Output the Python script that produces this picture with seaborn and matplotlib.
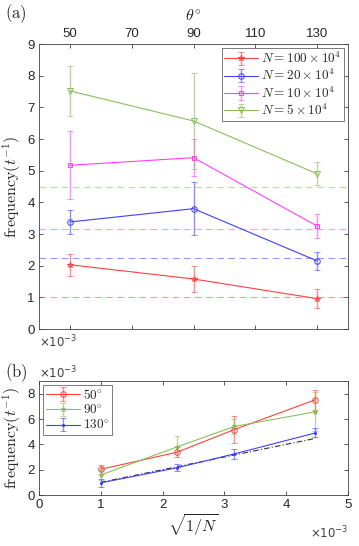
import numpy as np
import pandas as pd
import seaborn as sns
import matplotlib
matplotlib.use("Agg")
import matplotlib.pyplot as plt

sns.set_style("ticks")
plt.rcParams['font.family'] = ['Liberation Sans', 'DejaVu Sans']
plt.rcParams['mathtext.fontset'] = 'cm'

# ---- data ----
theta = [50, 90, 130]
n_labels = [r'$N = 100\times10^4$', r'$N = 20\times10^4$', r'$N = 10\times10^4$', r'$N = 5\times10^4$']
freq_n100 = [2.03, 1.58, 0.96]
err_n100 = [0.35, 0.40, 0.31]
freq_n20 = [3.38, 3.80, 2.15]
err_n20 = [0.39, 0.83, 0.28]
freq_n10 = [5.17, 5.41, 3.25]
err_n10 = [1.08, 0.58, 0.39]
freq_n5 = [7.52, 6.57, 4.90]
err_n5 = [0.78, 1.53, 0.36]
ref_levels = [1.0, 2.236, 3.162, 4.472]   # sqrt(1/N) x1e3

sqrt_inv_n = [1.0, 2.236, 3.162, 4.472]
ang_labels = [r'$50^{\circ}$', r'$90^{\circ}$', r'$130^{\circ}$']
freq_50 = [2.03, 3.38, 5.17, 7.52]
err_50 = [0.35, 0.39, 1.08, 0.78]
freq_90 = [1.58, 3.80, 5.41, 6.57]
err_90 = [0.40, 0.83, 0.58, 1.53]
freq_130 = [0.96, 2.15, 3.25, 4.90]
err_130 = [0.31, 0.28, 0.39, 0.36]

c_red = (1.0, 0.25, 0.25)
c_blue = (0.25, 0.25, 1.0)
c_mag = (1.0, 0.25, 1.0)
c_grn = (0.55, 0.75, 0.35)
axcol = '#404040'

fig = plt.figure(figsize=(3.59, 5.46), dpi=100)
ax1 = fig.add_axes([0.1086, 0.3974, 0.861, 0.522])
ax2 = fig.add_axes([0.1086, 0.0934, 0.861, 0.2088])

def style(ax):
    for s in ax.spines.values():
        s.set_color(axcol)
        s.set_linewidth(0.6)
    ax.tick_params(direction='in', length=3, width=0.6, colors=axcol,
                   labelcolor='#262626', labelsize=9.5, pad=3,
                   top=True, right=True)

# ---- panel (a) ----
series = [(freq_n100, err_n100, c_red, '*', 4),
          (freq_n20, err_n20, c_blue, 'o', 4),
          (freq_n10, err_n10, c_mag, 's', 3.5),
          (freq_n5, err_n5, c_grn, 'v', 4)]
for (f, e, c, m, ms), lab, lvl in zip(series, n_labels, ref_levels):
    ax1.axhline(lvl, color=c, alpha=0.55, lw=0.8, ls=(0, (6, 4)), zorder=1)
    ax1.errorbar(theta, f, yerr=e, color=c, marker=m, ms=ms, mfc='none',
                 mew=0.7, lw=0.8, capsize=2.5, capthick=0.8, elinewidth=1.0,
                 ecolor=c + (0.6,), label=lab, zorder=3)
ax1.set_xlim(40, 140)
ax1.set_ylim(0, 9)
ax1.set_xticks([50, 70, 90, 110, 130])
ax1.set_yticks(range(0, 10))
style(ax1)
ax1.tick_params(axis='x', labeltop=True, labelbottom=False)
ax1.set_ylabel(r'$\mathrm{frequency}(t^{-1})$', fontsize=11.5, labelpad=3)
ax1.xaxis.set_label_position('top')
ax1.set_xlabel(r'$\theta^{\circ}$', fontsize=11.5, labelpad=5)
leg = ax1.legend(loc='upper right', fontsize=9.5, frameon=True, fancybox=False,
                 borderpad=0.2, handlelength=2.6, handletextpad=0.2,
                 labelspacing=0.15, borderaxespad=0.3)
leg.get_frame().set_edgecolor(axcol)
leg.get_frame().set_linewidth(0.6)
fig.text(0.014, 0.975, r'$(\mathrm{a})$', fontsize=12, va='center')
ax1.text(0.0, -0.045, r'$\times10^{\mathsf{-3}}$', transform=ax1.transAxes,
         fontsize=8.5, color='#404040', va='center', ha='left', math_fontfamily='dejavusans')

# ---- panel (b) ----
ref_df = pd.DataFrame({'x': sqrt_inv_n, 'y': ref_levels})
sns.lineplot(data=ref_df, x='x', y='y', ax=ax2, color='#333333', lw=0.8,
             linestyle=(0, (5, 2, 1, 2)), zorder=2)
series2 = [(freq_50, err_50, c_red, 'o', 4),
           (freq_90, err_90, c_grn, '*', 3.5),
           (freq_130, err_130, c_blue, '.', 3)]
for (f, e, c, m, ms), lab in zip(series2, ang_labels):
    ax2.errorbar(sqrt_inv_n, f, yerr=e, color=c, marker=m, ms=ms, mfc='none' if m == 'o' else c,
                 mew=0.7, lw=0.8, capsize=2.5, capthick=0.8, elinewidth=1.0,
                 ecolor=c + (0.6,), label=lab, zorder=3)
ax2.set_xlim(0, 5)
ax2.set_ylim(0, 9)
ax2.set_xticks(range(0, 6))
ax2.set_yticks([0, 2, 4, 6, 8])
style(ax2)
ax2.set_xlabel(r'$\sqrt{1/N}$', fontsize=11.5, labelpad=1)
ax2.set_ylabel(r'$\mathrm{frequency}(t^{-1})$', fontsize=11.5, labelpad=3)
leg2 = ax2.legend(loc='upper left', fontsize=9.5, frameon=True, fancybox=False,
                  borderpad=0.2, handlelength=2.6, handletextpad=0.2,
                  labelspacing=0.1, borderaxespad=0.3)
leg2.get_frame().set_edgecolor(axcol)
leg2.get_frame().set_linewidth(0.6)
fig.text(0.014, 0.318, r'$(\mathrm{b})$', fontsize=12, va='center')
ax2.text(0.0, 1.07, r'$\times10^{\mathsf{-3}}$', transform=ax2.transAxes,
         fontsize=8.5, color='#404040', va='center', ha='left', math_fontfamily='dejavusans')
ax2.text(1.0, -0.33, r'$\times10^{\mathsf{-3}}$', transform=ax2.transAxes,
         fontsize=8.5, color='#404040', va='center', ha='right', math_fontfamily='dejavusans')

fig.savefig('out.png', dpi=100)
